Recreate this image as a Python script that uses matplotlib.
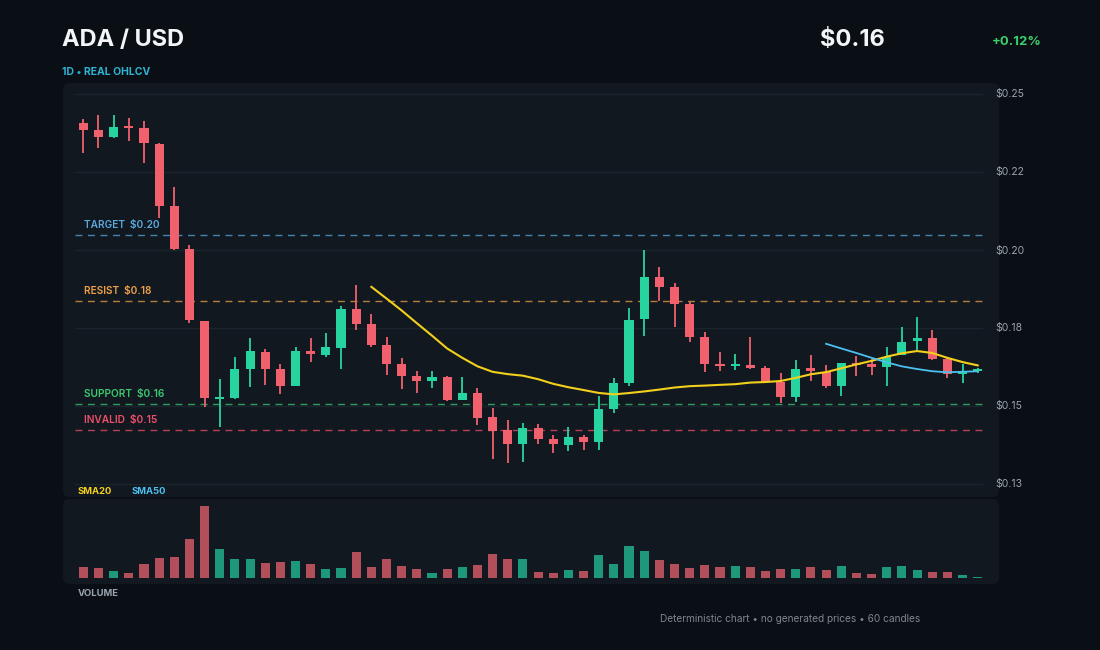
import numpy as np
import pandas as pd
import matplotlib
matplotlib.use("Agg")
import matplotlib.pyplot as plt
from matplotlib.patches import FancyBboxPatch

plt.rcParams['font.family'] = ['Inter', 'DejaVu Sans']

# daily candles, ADA/USD
opens = [0.2382, 0.2361, 0.2340, 0.2370, 0.2367, 0.2319, 0.2133, 0.2004, 0.1788, 0.1554,
         0.1557, 0.1644, 0.1695, 0.1644, 0.1593, 0.1698, 0.1686, 0.1707, 0.1824, 0.1779,
         0.1716, 0.1659, 0.1623, 0.1608, 0.1620, 0.1551, 0.1572, 0.1500, 0.1461, 0.1419,
         0.1467, 0.1434, 0.1416, 0.1440, 0.1425, 0.1524, 0.1602, 0.1794, 0.1920, 0.1890,
         0.1839, 0.1740, 0.1659, 0.1653, 0.1656, 0.1647, 0.1605, 0.1560, 0.1647, 0.1635,
         0.1593, 0.1662, 0.1659, 0.1650, 0.1686, 0.1728, 0.1737, 0.1674, 0.1629, 0.1638]
highs = [0.2394, 0.2406, 0.2406, 0.2397, 0.2388, 0.2322, 0.2190, 0.2016, 0.1788, 0.1614,
         0.1680, 0.1737, 0.1704, 0.1659, 0.1710, 0.1737, 0.1752, 0.1833, 0.1896, 0.1809,
         0.1740, 0.1677, 0.1638, 0.1638, 0.1623, 0.1620, 0.1587, 0.1527, 0.1491, 0.1482,
         0.1479, 0.1446, 0.1470, 0.1446, 0.1563, 0.1617, 0.1827, 0.2000, 0.1950, 0.1902,
         0.1845, 0.1755, 0.1695, 0.1689, 0.1740, 0.1653, 0.1632, 0.1671, 0.1686, 0.1656,
         0.1662, 0.1683, 0.1674, 0.1710, 0.1770, 0.1800, 0.1761, 0.1677, 0.1659, 0.1647]
lows = [0.2292, 0.2307, 0.2337, 0.2328, 0.2262, 0.2097, 0.2001, 0.1782, 0.1530, 0.1470,
        0.1554, 0.1590, 0.1596, 0.1569, 0.1593, 0.1665, 0.1680, 0.1644, 0.1761, 0.1710,
        0.1626, 0.1584, 0.1572, 0.1587, 0.1548, 0.1551, 0.1476, 0.1374, 0.1362, 0.1365,
        0.1419, 0.1392, 0.1398, 0.1401, 0.1401, 0.1512, 0.1593, 0.1743, 0.1848, 0.1770,
        0.1725, 0.1635, 0.1638, 0.1641, 0.1644, 0.1602, 0.1542, 0.1545, 0.1608, 0.1587,
        0.1563, 0.1623, 0.1626, 0.1593, 0.1686, 0.1701, 0.1671, 0.1617, 0.1602, 0.1632]
closes = [0.2361, 0.2340, 0.2370, 0.2367, 0.2322, 0.2133, 0.2004, 0.1791, 0.1557, 0.1560,
          0.1644, 0.1698, 0.1644, 0.1593, 0.1698, 0.1689, 0.1710, 0.1824, 0.1779, 0.1716,
          0.1659, 0.1623, 0.1608, 0.1620, 0.1551, 0.1572, 0.1497, 0.1458, 0.1419, 0.1467,
          0.1434, 0.1419, 0.1440, 0.1425, 0.1524, 0.1602, 0.1791, 0.1920, 0.1890, 0.1839,
          0.1740, 0.1659, 0.1653, 0.1659, 0.1647, 0.1605, 0.1560, 0.1644, 0.1638, 0.1593,
          0.1662, 0.1656, 0.1650, 0.1680, 0.1725, 0.1737, 0.1674, 0.1629, 0.1635, 0.1641]
# volume, millions
volumes = [116, 100, 76, 50, 143, 200, 210, 393, 723, 293,
           193, 190, 153, 163, 170, 140, 90, 100, 263, 113,
           197, 123, 97, 53, 93, 113, 133, 240, 190, 193,
           60, 50, 83, 73, 230, 140, 323, 273, 183, 143,
           100, 136, 110, 120, 113, 73, 90, 93, 110, 83,
           126, 53, 40, 110, 126, 83, 60, 60, 30, 10]

level_names = ["TARGET", "RESIST", "SUPPORT", "INVALID"]
level_prices = [0.2045, 0.1848, 0.1540, 0.1462]
level_text = ["$0.20", "$0.18", "$0.16", "$0.15"]
level_colors = ["#5aa8dc", "#eea049", "#3cc870", "#ee4f6a"]

price_ticks = [0.2470, 0.2236, 0.2002, 0.1768, 0.1534, 0.1300]

BG = "#0a0f15"
PANEL = "#111820"
GRID = "#1b242d"
UP = "#27d49f"
DOWN = "#f0616d"
VOL_UP = "#1e987a"
VOL_DOWN = "#b24f5b"


def px_rect(x0, y0, x1, y1):
    # top-down pixel box -> figure fraction [l, b, w, h]
    W, H = 1100.0, 650.0
    return [x0 / W, 1 - y1 / H, (x1 - x0) / W, (y1 - y0) / H]


def panel(fig, x0, y0, x1, y1, color=PANEL):
    W, H = 1100.0, 650.0
    p = FancyBboxPatch((x0 / W, 1 - y1 / H), (x1 - x0) / W, (y1 - y0) / H,
                       boxstyle="round,pad=0,rounding_size=0.006",
                       mutation_aspect=W / H, transform=fig.transFigure,
                       facecolor=color, edgecolor="none", zorder=-10)
    fig.patches.append(p)


fig = plt.figure(figsize=(11, 6.5), dpi=100, facecolor=BG)
panel(fig, 63, 83, 999, 497)
panel(fig, 63, 499, 999, 584)

o = np.array(opens)
h = np.array(highs)
l = np.array(lows)
c = np.array(closes)
x = np.arange(len(c))
up = c >= o

ax = fig.add_axes(px_rect(75, 85, 983, 492))
ax.set_zorder(2)
ax.set_facecolor("none")
ax.set_xlim(-0.55, 59.35)
ax.set_ylim(0.12745, 0.24955)

for t in price_ticks:
    ax.axhline(t, color=GRID, lw=1, zorder=1)

# trade levels
for name, p, txt, col in zip(level_names, level_prices, level_text, level_colors):
    ax.axhline(p, color=col, lw=1, alpha=0.75, dashes=(5, 4), zorder=2)
    ax.text(0.05, p + 0.0015, name + "  " + txt, color=col, fontsize=7.3,
            fontweight="semibold", va="bottom", ha="left", zorder=2.5)

# candles
body_lo = np.minimum(o, c)
body_h = np.maximum(np.abs(c - o), 0.0006)
cols = np.where(up, UP, DOWN)
ax.vlines(x, l, h, colors=cols, lw=1.3, zorder=3)
ax.bar(x, body_h, bottom=body_lo, width=0.6, color=cols, zorder=4)

# moving averages
s = pd.Series(c)
sma20 = s.rolling(20).mean()
sma50 = s.rolling(50).mean()
ax.plot(x, sma20, color="#f2d01c", lw=1.5, zorder=6)
ax.plot(x, sma50, color="#4cc0f0", lw=1.3, zorder=6)

ax.yaxis.tick_right()
ax.set_yticks(price_ticks)
ax.set_yticklabels([f"${t:.2f}" for t in price_ticks])
ax.tick_params(axis="y", length=0, pad=9, labelsize=7.5, labelcolor="#9aa4ae")
ax.set_xticks([])
for sp in ax.spines.values():
    sp.set_visible(False)

# volume
vax = fig.add_axes(px_rect(75, 498, 983, 583))
vax.set_zorder(2)
vax.set_facecolor("none")
vax.bar(x, volumes, width=0.6, color=np.where(up, VOL_UP, VOL_DOWN))
vax.set_xlim(-0.55, 59.35)
vax.set_ylim(-47, 803)
vax.axis("off")

# header and labels
fig.text(62 / 1100, 1 - 40 / 650, "ADA / USD", color="#f3f5f8", fontsize=17,
         fontweight="bold", va="center", ha="left")
fig.text(820 / 1100, 1 - 40 / 650, "$0.16", color="#f3f5f8", fontsize=17,
         fontweight="bold", va="center", ha="left")
fig.text(1042 / 1100, 1 - 42 / 650, "+0.12%", color="#3ccf6c", fontsize=9.5,
         fontweight="bold", va="center", ha="right")
fig.text(62 / 1100, 1 - 72 / 650, "1D \u2022 REAL OHLCV", color="#2fb2d4",
         fontsize=7.5, fontweight="bold", va="center", ha="left")
fig.text(78 / 1100, 1 - 492 / 650, "SMA20", color="#f2d01c", fontsize=6.8,
         fontweight="bold", va="center", ha="left")
fig.text(132 / 1100, 1 - 492 / 650, "SMA50", color="#4cc0f0", fontsize=6.8,
         fontweight="bold", va="center", ha="left")
fig.text(78 / 1100, 1 - 593 / 650, "VOLUME", color="#9aa4ae", fontsize=6.8,
         fontweight="bold", va="center", ha="left")
fig.text(660 / 1100, 1 - 619 / 650,
         "Deterministic chart \u2022 no generated prices \u2022 60 candles",
         color="#7c8690", fontsize=7.3, va="center", ha="left")

fig.savefig("out.png", dpi=100, facecolor=BG)
